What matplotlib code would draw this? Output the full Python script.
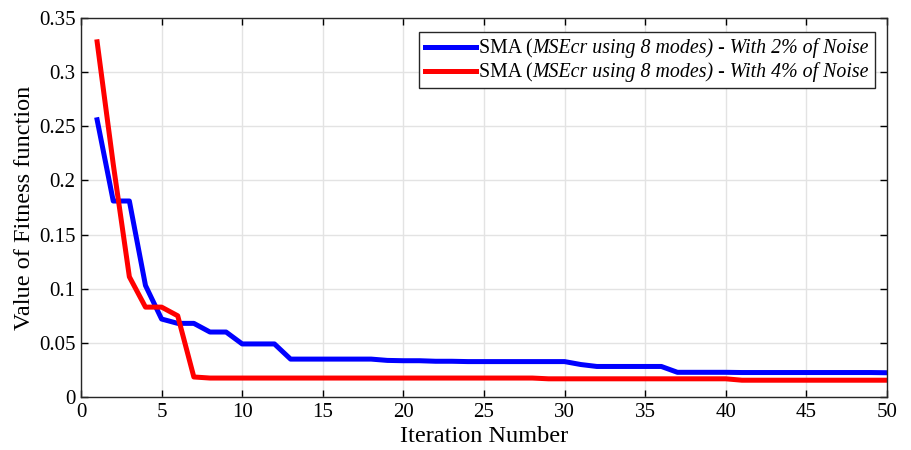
import matplotlib
matplotlib.use('Agg')
import matplotlib.pyplot as plt
import numpy as np
from matplotlib.offsetbox import (AnchoredOffsetbox, DrawingArea, HPacker,
                                  TextArea, VPacker)
from matplotlib.lines import Line2D

plt.rcParams['font.family'] = ['Liberation Serif', 'DejaVu Serif']

iters = np.arange(1, 51)

# fitness values
noise2 = [0.256, 0.181, 0.181, 0.103, 0.072, 0.068, 0.068, 0.060, 0.060, 0.049,
          0.049, 0.049, 0.035, 0.035, 0.035, 0.035, 0.035, 0.035, 0.0338, 0.0335,
          0.0335, 0.033, 0.033, 0.0327, 0.0327, 0.0327, 0.0327, 0.0327, 0.0327, 0.0327,
          0.030, 0.0282, 0.0282, 0.0282, 0.0282, 0.0282, 0.0228, 0.0228, 0.0228, 0.0228,
          0.0226, 0.0226, 0.0226, 0.0226, 0.0226, 0.0226, 0.0226, 0.0226, 0.0226, 0.0224]
noise4 = [0.328, 0.215, 0.111, 0.083, 0.083, 0.075, 0.0185, 0.0175, 0.0175, 0.0175,
          0.0175, 0.0175, 0.0175, 0.0175, 0.0175, 0.0175, 0.0175, 0.0175, 0.0175, 0.0175,
          0.0175, 0.0175, 0.0175, 0.0175, 0.0175, 0.0175, 0.0175, 0.0175, 0.0168, 0.0168,
          0.0168, 0.0168, 0.0168, 0.0168, 0.0168, 0.0168, 0.0168, 0.0168, 0.0168, 0.0168,
          0.0155, 0.0155, 0.0155, 0.0155, 0.0155, 0.0155, 0.0155, 0.0155, 0.0155, 0.0155]

labels_up = ['SMA (', 'SMA (']
labels_it = ['MSEcr using 8 modes) - With 2% of Noise',
             'MSEcr using 8 modes) - With 4% of Noise']
colors = [(0, 0, 1), (1, 0, 0)]

fig = plt.figure(figsize=(9.11, 4.5), dpi=100)
ax = fig.add_axes([81/911, 53/450, 806/911, 379/450])

ax.plot(iters, noise2, color=colors[0], lw=3.6)
ax.plot(iters, noise4, color=colors[1], lw=3.6)

ax.set_xlim(0, 50)
ax.set_ylim(0, 0.35)
ax.set_xticks(np.arange(0, 51, 5))
ax.set_yticks(np.arange(0, 0.351, 0.05))
ax.set_yticklabels(['0', '0.05', '0.1', '0.15', '0.2', '0.25', '0.3', '0.35'])
ax.grid(True, color='#e3e3e3', lw=1)
ax.set_axisbelow(True)
ax.tick_params(direction='in', top=True, right=True, labelsize=15, length=5, width=1,
               pad=4)
for s in ax.spines.values():
    s.set_color('#262626')
    s.set_linewidth(1)

ax.set_xlabel('Iteration Number', fontsize=17.5, labelpad=3)
ax.set_ylabel('Value of Fitness function', fontsize=17.5, labelpad=3)

# legend with mixed upright / italic text
rows = []
for c, up, it in zip(colors, labels_up, labels_it):
    da = DrawingArea(37, 10, 0, 0)
    da.add_artist(Line2D([0, 37], [4.5, 4.5], color=c, lw=3.6))
    t1 = TextArea(up, textprops=dict(fontsize=14.3))
    t2 = TextArea(it, textprops=dict(fontsize=14.3, style='italic'))
    txt = HPacker(children=[t1, t2], align='baseline', pad=0, sep=0)
    rows.append(HPacker(children=[da, txt], align='baseline', pad=0, sep=2))
box = VPacker(children=rows, align='left', pad=0, sep=3)
anch = AnchoredOffsetbox(loc='upper right', child=box, pad=0.42, borderpad=0,
                         frameon=True, bbox_to_anchor=(0.985, 0.962),
                         bbox_transform=ax.transAxes)
anch.patch.set_edgecolor('#262626')
anch.patch.set_linewidth(1)
anch.patch.set_boxstyle('square', pad=0)
ax.add_artist(anch)

plt.savefig('out.png', dpi=100)
